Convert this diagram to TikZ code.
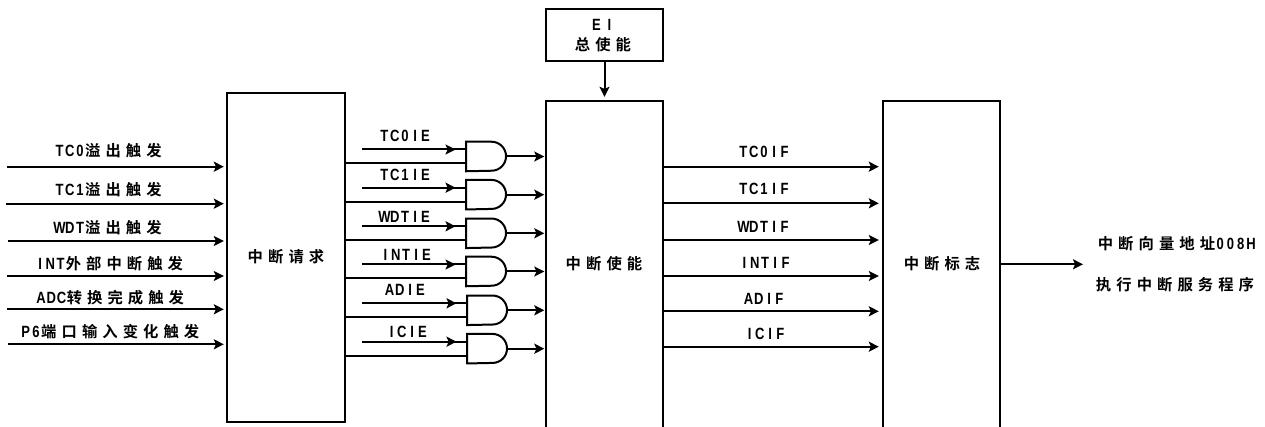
\documentclass[tikz,border=0pt]{standalone}
\usepackage{fontspec}
\setmainfont{Liberation Sans}
\newfontfamily\cjkf{Noto Sans CJK SC Bold}[LetterSpace=33]
\newfontfamily\latf{Liberation Sans Bold}[FakeStretch=0.8]
\usetikzlibrary{arrows.meta}
\ExplSyntaxOn
\NewDocumentCommand{\la}{m}{{\latf\fontsize{12.2}{14}\selectfont\exp_args:Ne\tl_map_inline:nn{#1}{\makebox[7.7pt][c]{##1}}}}
\ExplSyntaxOff
\newcommand{\cj}[1]{{\cjkf #1}}
\tikzset{
  block/.style={draw,line width=1.8pt,rectangle,inner sep=0pt,minimum width=117*0.75pt},
  wire/.style={line width=1.5pt},
  arrowwire/.style={wire,-{Stealth[length=7.5pt,width=7.5pt,inset=1.6pt]}},
  lab/.style={font=\fontsize{11.5}{14}\selectfont,inner sep=0pt,align=center},
  gatebox/.style={rectangle,inner sep=0pt,minimum width=40*0.75pt,minimum height=29*0.75pt},
  gateline/.style={line width=1.5pt,line join=miter}
}
\begin{document}
\begin{tikzpicture}[x=0.75pt,y=-0.75pt]
\useasboundingbox (0,0) rectangle (1265,427);
% blocks
\node[block,minimum width=118*0.75pt,minimum height=329*0.75pt] (req) at (286,257.5) {};
\node[block,minimum height=330*0.75pt] (en) at (604.5,266) {};
\node[block,minimum height=330*0.75pt] (flag) at (941.5,266) {};
\node[block,minimum height=52*0.75pt] (ei) at (604.5,35) {};
\node[lab] (treq) at (286,257) {\cj{中断请求}};
\node[lab] (ten) at (604,264) {\cj{中断使能}};
\node[lab] (tflag) at (942,264) {\cj{中断标志}};
\node[lab] (tei) at (603,25) {\la{E}\hspace{2pt}\la{I}};
\node[lab] (tzs) at (603,44.5) {\cj{总使能}};
\draw[arrowwire,shorten >=3*0.75pt] (ei.south) -- (en.north);
% left inputs
\foreach \n/\xa/\y/\lx/\ly/\t in {
  1/7/166.7/108/150.7/{\la{TC0}\cj{溢出触发}},
  2/6/203.7/108/190/{\la{TC1}\cj{溢出触发}},
  3/8/241/108/227.3/{\la{WDT}\cj{溢出触发}},
  4/7/276/109/264/{\la{INT}\cj{外部中断触发}},
  5/7/309.3/110/297.7/{\la{ADC}\cj{转换完成触发}},
  6/8/344.3/110/331.7/{\la{P6}\cj{端口输入变化触发}}}{
  \coordinate (s\n) at (\xa,\y);
  \draw[arrowwire,shorten >=2*0.75pt] (s\n) -- (s\n -| req.west);
  \node[lab] (ls\n) at (\lx,\ly) {\t};
}
% gates
\foreach \n/\gx/\gy/\lx/\ly/\t/\fy/\flx/\fly/\ft in {
  1/486.3/156.5/405/135.7/TC0IE/166.7/764/151.7/TC0IF,
  2/486.3/194.7/405/175/TC1IE/203.3/764/189.3/TC1IF,
  3/486.3/233.3/405/216.7/WDTIE/240/764/227.3/WDTIF,
  4/486.3/271.5/406/255/INTIE/276/765/263.3/INTIF,
  5/487.3/310.3/405/290/ADIE/311.3/764/299.3/ADIF,
  6/487.3/348.7/407/331.7/ICIE/346.7/765/334.3/ICIF}{
  \node[gatebox] (g\n) at (\gx,\gy) {};
  \draw[gateline] (g\n.north west) -- ++(25.5,0) arc[start angle=90,end angle=-90,radius=14.5*0.75pt] -- (g\n.south west) -- cycle;
  \coordinate (e\n) at (362,\gy-7);
  \draw[wire] (e\n) -- (e\n -| g\n.west);
  \draw[arrowwire,shorten >=10.5*0.75pt] (e\n) -- (e\n -| g\n.west);
  \coordinate (r\n) at (362,\gy+7);
  \draw[wire] (r\n -| req.east) -- (r\n -| g\n.west);
  \draw[arrowwire,shorten >=0.5*0.75pt] (g\n.east) -- (g\n.east -| en.west);
  \node[lab] (le\n) at (\lx,\ly) {\la{\t}};
  \coordinate (f\n) at (663,\fy);
  \draw[arrowwire,shorten >=3*0.75pt] (f\n -| en.east) -- (f\n -| flag.west);
  \node[lab] (lf\n) at (\flx,\fly) {\la{\ft}};
}
% output
\coordinate (out) at (1083,264.3);
\draw[arrowwire] (out -| flag.east) -- (out);
\node[lab] (o1) at (1177,244) {\cj{中断向量地址}\la{008H}};
\node[lab] (o2) at (1175,285) {\cj{执行中断服务程序}};
\end{tikzpicture}
\end{document}
